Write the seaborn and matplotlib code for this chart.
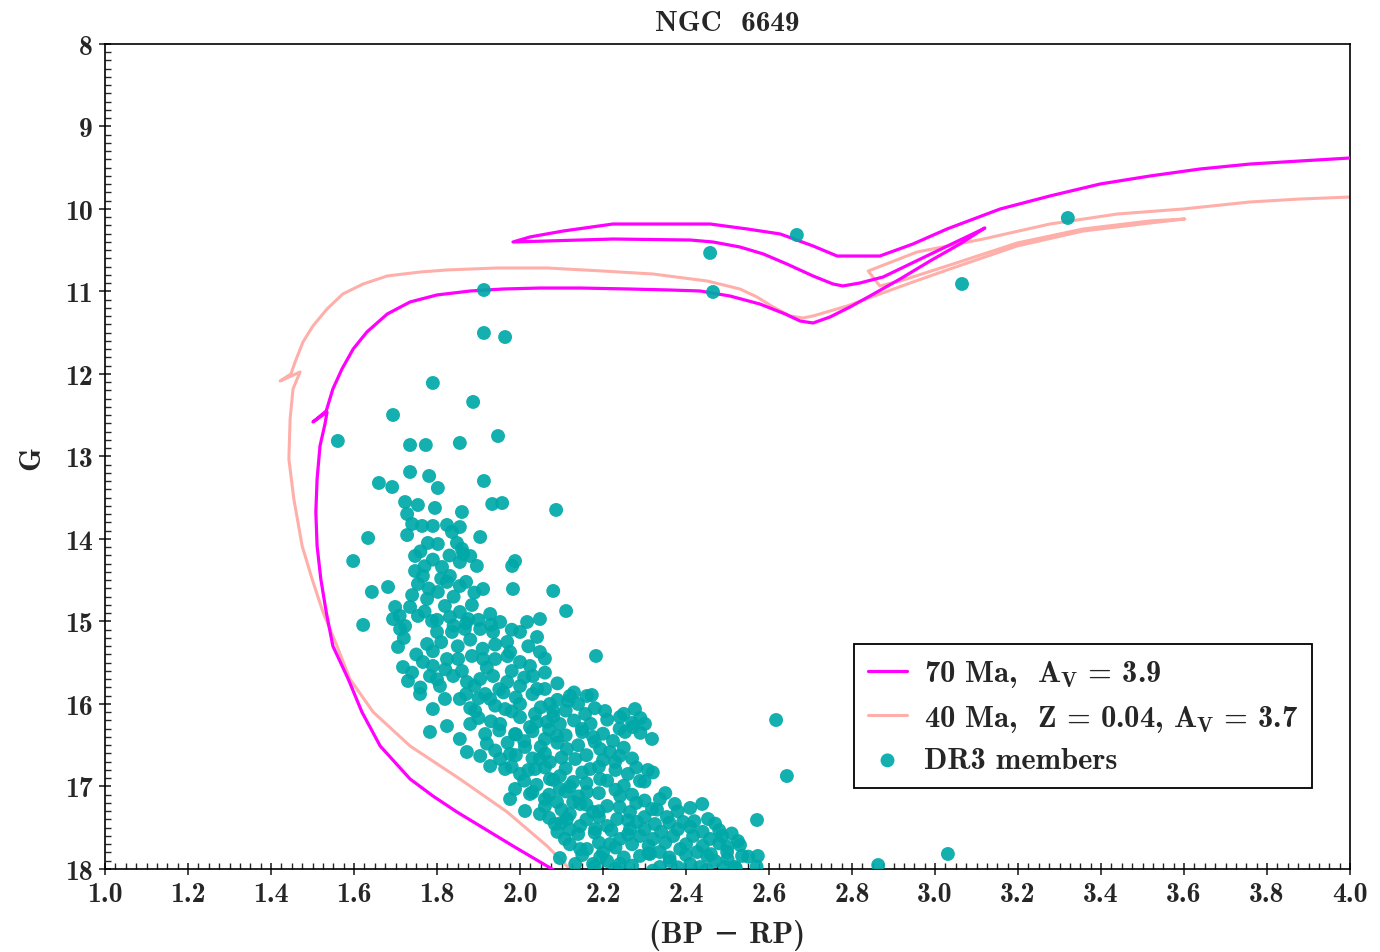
import matplotlib
matplotlib.use("Agg")
import matplotlib.pyplot as plt
import seaborn as sns
from matplotlib.ticker import MultipleLocator

# ---------------- data ----------------
# cluster members read off the CMD (BP-RP colour, G magnitude)
members_bp_rp = [
    2.667, 2.458, 2.465, 1.913, 1.913, 1.964, 3.320, 3.065,
    1.790, 1.887, 1.694, 1.561, 1.735, 1.773, 1.855, 1.947,
    1.735, 1.781, 1.913, 1.660, 1.692, 1.723, 1.754, 1.795,
    1.802, 1.860, 1.933, 1.957, 2.087, 1.728, 1.740, 1.764,
    1.790, 1.824, 1.855, 1.836, 1.728, 1.778, 1.802, 1.848,
    1.904, 1.634, 1.598, 1.747, 1.863, 1.880, 1.981, 1.988,
    1.747, 1.766, 1.812, 1.831, 1.855, 1.896, 1.643, 1.682,
    1.754, 1.824, 1.855, 1.911, 1.983, 2.080, 1.699, 1.735,
    1.776, 1.802, 1.819, 1.884, 2.111, 1.622, 1.694, 1.723,
    1.754, 1.788, 1.831, 1.855, 1.875, 1.928, 1.952, 2.017,
    2.048, 1.711, 1.706, 1.776, 1.800, 1.836, 1.867, 1.904,
    1.935, 1.969, 2.000, 2.041, 2.048, 2.183, 1.718, 1.730,
    1.766, 1.790, 1.824, 1.851, 1.884, 1.911, 1.940, 1.976,
    2.000, 2.024, 1.783, 1.807, 1.839, 1.872, 1.904, 1.935,
    1.969, 2.000, 2.031, 2.041, 2.120, 2.161, 1.790, 1.783,
    1.824, 1.855, 1.872, 1.904, 1.928,
    1.855, 1.892, 1.928, 1.964, 2.000, 2.036, 2.072, 1.880,
    1.916, 1.952, 1.988, 2.024, 2.060, 1.940, 1.976, 2.012,
    2.048, 1.964, 2.000, 2.036, 2.072, 1.988, 2.024, 2.060,
    2.096, 2.048, 2.084, 2.120, 2.108, 2.145, 2.193, 2.241,
    2.173, 2.140, 2.116, 2.080, 2.301, 2.272, 2.253, 2.318,
    2.224, 2.176, 2.149, 2.308, 2.260, 2.289, 2.217, 2.229,
    2.193, 2.318, 2.354, 2.393, 2.439, 2.453, 2.140, 2.161,
    2.241, 2.289, 2.320, 2.369, 2.417, 2.458, 2.487, 2.525,
    2.499, 2.535, 2.451, 2.427, 2.386, 2.337, 2.289, 2.210,
    2.176, 2.573, 2.571, 2.617, 2.643, 2.863, 3.031,
    2.065, 2.089, 2.113, 2.072, 2.096, 2.128, 2.089, 2.128,
    2.161, 2.193, 2.176, 2.210, 2.241, 2.265, 2.234, 2.210,
    2.282, 2.145, 2.113, 2.205, 2.241, 2.277, 2.337, 2.373,
    2.410, 2.325, 2.337, 2.434, 2.494, 1.759, 1.819,
    1.916, 2.060, 2.096, 2.133, 2.169, 2.157, 2.012, 2.145,
    2.181, 2.217, 2.265, 2.313, 2.361, 2.410, 2.470, 2.518,
    2.096, 2.133, 1.952, 1.976,
]
members_g = [
    10.315, 10.533, 11.006, 10.982, 11.503, 11.552, 10.109, 10.909,
    12.109, 12.339, 12.497, 12.812, 12.861, 12.861, 12.836, 12.752,
    13.188, 13.236, 13.297, 13.321, 13.370, 13.552, 13.588, 13.624,
    13.382, 13.673, 13.576, 13.564, 13.648, 13.697, 13.818, 13.842,
    13.842, 13.830, 13.855, 13.915, 13.952, 14.048, 14.061, 14.048,
    13.976, 13.988, 14.267, 14.206, 14.182, 14.206, 14.327, 14.267,
    14.388, 14.448, 14.339, 14.448, 14.279, 14.327, 14.642, 14.582,
    14.545, 14.521, 14.570, 14.606, 14.606, 14.630, 14.824, 14.824,
    14.727, 14.642, 14.812, 14.800, 14.873, 15.042, 14.970, 15.055,
    14.933, 14.994, 14.945, 14.885, 14.970, 14.909, 15.006, 15.006,
    14.970, 15.091, 15.309, 15.273, 15.127, 15.127, 15.091, 15.091,
    15.127, 15.248, 15.127, 15.188, 15.370, 15.418, 15.552, 15.721,
    15.491, 15.539, 15.455, 15.455, 15.418, 15.455, 15.455, 15.370,
    15.491, 15.539, 15.661, 15.782, 15.661, 15.733, 15.697, 15.661,
    15.733, 15.782, 15.661, 15.818, 15.903, 15.903, 16.061, 16.339,
    16.267, 16.424, 16.582, 16.630, 16.752,
    15.939, 16.085, 15.939, 16.061, 16.000, 16.121, 16.000, 16.242,
    16.364, 16.242, 16.364, 16.279, 16.424, 16.564, 16.606, 16.521,
    16.667, 16.788, 16.848, 16.788, 16.909, 17.030, 17.091, 17.152,
    17.030, 17.333, 17.455, 17.333, 17.636, 17.758, 17.855, 17.939,
    15.891, 16.000, 15.964, 16.085, 16.242, 16.279, 16.339, 16.424,
    16.448, 16.400, 16.303, 16.800, 16.848, 16.933, 16.582, 16.703,
    16.545, 17.273, 17.370, 17.430, 17.212, 17.394, 17.576, 17.758,
    17.636, 17.600, 17.636, 17.600, 17.600, 17.636, 17.600, 17.661,
    17.794, 17.842, 17.842, 17.794, 17.758, 17.794, 17.842, 17.903,
    17.939, 17.842, 17.406, 16.194, 16.873, 17.952, 17.818,
    16.218, 16.388, 16.545, 16.703, 16.873, 16.945, 17.188, 17.188,
    17.067, 16.909, 17.309, 17.236, 17.115, 17.309, 17.394, 17.479,
    17.430, 17.479, 17.394, 16.085, 16.158, 16.061, 17.152, 17.212,
    17.491, 17.455, 17.976, 17.976, 17.976, 15.879, 15.939,
    15.879, 15.818, 16.242, 16.667, 16.788, 16.121, 17.297, 17.212,
    17.515, 17.697, 17.515, 17.818, 17.903, 17.939, 17.903, 17.976,
    17.867, 17.939, 16.667, 17.152,
]

# densely packed members of the lower main sequence
core_bp_rp = [
    1.87, 1.90, 1.96, 1.99, 2.03, 2.09, 2.13,
    1.88, 1.94, 1.98, 2.05, 2.11, 2.18, 2.25, 2.29,
    1.90, 1.93, 2.00, 2.04, 2.08, 2.13, 2.17, 2.21, 2.27,
    1.95, 1.99, 2.03, 2.07, 2.11, 2.15, 2.20, 2.29, 2.24,
    1.92, 1.97, 2.01, 2.05, 2.09, 2.14, 2.18, 2.25,
    1.99, 2.03, 2.06, 2.10, 2.16, 2.20, 2.24, 2.27,
    1.98, 2.02, 2.06, 2.11, 2.15, 2.19, 2.23, 2.28, 2.32,
    2.01, 2.04, 2.08, 2.12, 2.16, 2.21, 2.25, 2.30,
    2.03, 2.07, 2.11, 2.14, 2.19, 2.23, 2.27, 2.30, 2.35,
    2.06, 2.10, 2.16, 2.19, 2.24, 2.28, 2.33, 2.38, 2.41,
    2.07, 2.10, 2.16, 2.19, 2.26, 2.30, 2.36, 2.42, 2.47,
    2.09, 2.12, 2.18, 2.22, 2.26, 2.30, 2.34, 2.38, 2.44, 2.48, 2.51,
    2.12, 2.19, 2.23, 2.27, 2.31, 2.35, 2.40, 2.44, 2.48, 2.50, 2.53,
    2.15, 2.20, 2.25, 2.31, 2.36, 2.40, 2.46, 2.50, 2.55,
    2.18, 2.23, 2.27, 2.32, 2.38, 2.45, 2.52, 2.57,
    1.74, 1.76, 1.80, 1.82, 1.86, 1.89, 1.92, 1.95, 1.98, 2.01, 2.06, 2.09,
    1.72, 1.75, 1.79, 1.81, 1.85, 1.88, 1.91, 1.94, 1.97, 2.02, 2.06,
    1.71, 1.77, 1.80, 1.84, 1.87, 1.90, 1.93, 1.98,
    1.76, 1.79, 1.83, 1.86, 1.78, 1.81, 1.84, 1.87, 1.89, 1.74, 1.77,
]
core_g = [
    15.88, 15.93, 15.86, 15.92, 15.88, 15.95, 15.86,
    16.05, 16.02, 16.09, 16.04, 16.08, 16.05, 16.12, 16.17,
    16.17, 16.21, 16.16, 16.22, 16.15, 16.20, 16.24, 16.19, 16.23,
    16.32, 16.37, 16.33, 16.31, 16.38, 16.34, 16.36, 16.35, 16.30,
    16.48, 16.47, 16.45, 16.52, 16.47, 16.50, 16.46, 16.53,
    16.62, 16.66, 16.60, 16.65, 16.62, 16.68, 16.63, 16.66,
    16.76, 16.80, 16.77, 16.78, 16.83, 16.76, 16.80, 16.77, 16.83,
    16.93, 16.98, 16.92, 17.00, 16.96, 16.93, 16.99, 16.94,
    17.07, 17.10, 17.06, 17.12, 17.08, 17.04, 17.10, 17.17, 17.08,
    17.24, 17.28, 17.22, 17.30, 17.25, 17.20, 17.28, 17.30, 17.26,
    17.38, 17.44, 17.40, 17.37, 17.41, 17.37, 17.44, 17.42, 17.45,
    17.55, 17.52, 17.56, 17.53, 17.58, 17.52, 17.55, 17.52, 17.55, 17.53, 17.57,
    17.70, 17.68, 17.74, 17.70, 17.72, 17.68, 17.70, 17.72, 17.69, 17.73, 17.71,
    17.83, 17.80, 17.86, 17.81, 17.86, 17.83, 17.82, 17.88, 17.85,
    17.97, 18.00, 17.96, 18.02, 17.98, 18.01, 17.99, 17.97,
    15.62, 15.80, 15.70, 15.58, 15.60, 15.78, 15.56, 15.82, 15.60, 15.68, 15.62, 15.75,
    15.20, 15.40, 15.36, 15.25, 15.30, 15.22, 15.33, 15.28, 15.42, 15.30, 15.45,
    14.93, 14.88, 14.98, 15.05, 15.02, 14.98, 15.04, 15.10,
    14.15, 14.25, 14.20, 14.12, 14.60, 14.48, 14.70, 14.52, 14.65, 14.68, 14.33,
]

# 70 Ma isochrone
iso70_bp_rp = [
    2.140, 2.077, 1.983, 1.848, 1.790, 1.735, 1.663, 1.619, 1.586, 1.549,
    1.533, 1.520, 1.511, 1.508, 1.511, 1.518, 1.530, 1.535, 1.501, 1.533,
    1.549, 1.571, 1.598, 1.631, 1.680, 1.735, 1.800, 1.880, 1.959, 2.048,
    2.145, 2.265, 2.361, 2.434, 2.506, 2.578, 2.639, 2.675, 2.706, 2.747,
    2.795, 2.843, 2.916, 2.988, 3.060, 3.120, 3.116, 2.995, 2.875, 2.819,
    2.778, 2.754, 2.706, 2.643, 2.586, 2.530, 2.465, 2.410, 2.224, 2.065,
    1.983, 2.024, 2.104, 2.224, 2.458, 2.547, 2.627, 2.706, 2.764, 2.867,
    2.947, 3.029, 3.157, 3.277, 3.398, 3.518, 3.639, 3.759, 3.880, 4.000,
]
iso70_g = [
    18.200, 18.000, 17.721, 17.309, 17.115, 16.909, 16.509, 16.097, 15.697, 15.297,
    14.885, 14.485, 14.085, 13.673, 13.273, 12.873, 12.606, 12.461, 12.582, 12.448,
    12.182, 11.939, 11.697, 11.491, 11.273, 11.127, 11.042, 10.994, 10.970, 10.958,
    10.958, 10.970, 10.982, 10.994, 11.055, 11.152, 11.273, 11.358, 11.382, 11.309,
    11.188, 11.055, 10.848, 10.630, 10.424, 10.230, 10.242, 10.533, 10.824, 10.897,
    10.933, 10.909, 10.812, 10.667, 10.545, 10.461, 10.400, 10.376, 10.364, 10.388,
    10.400, 10.339, 10.267, 10.182, 10.182, 10.242, 10.303, 10.448, 10.570, 10.570,
    10.424, 10.242, 10.000, 9.842, 9.697, 9.600, 9.515, 9.455, 9.418, 9.382,
]

# 40 Ma, Z = 0.04 isochrone
iso40_bp_rp = [
    2.133, 2.120, 2.065, 1.969, 1.855, 1.735, 1.646, 1.590, 1.559, 1.525,
    1.499, 1.475, 1.455, 1.443, 1.446, 1.453, 1.470, 1.422, 1.448, 1.458,
    1.477, 1.501, 1.535, 1.573, 1.622, 1.680, 1.759, 1.824, 1.945, 2.065,
    2.200, 2.320, 2.451, 2.530, 2.571, 2.610, 2.651, 2.682, 2.706, 2.788,
    2.867, 2.947, 3.036, 3.198, 3.357, 3.518, 3.602, 3.518, 3.357, 3.198,
    3.036, 2.916, 2.867, 2.839, 2.957, 3.116, 3.277, 3.439, 3.598, 3.759,
    3.880, 4.000,
]
iso40_g = [
    18.121, 18.000, 17.721, 17.309, 16.909, 16.509, 16.097, 15.697, 15.297, 14.885,
    14.485, 14.085, 13.515, 13.030, 12.545, 12.182, 11.976, 12.085, 12.000, 11.855,
    11.612, 11.418, 11.212, 11.030, 10.909, 10.812, 10.764, 10.739, 10.715, 10.715,
    10.752, 10.788, 10.873, 10.970, 11.067, 11.188, 11.297, 11.321, 11.297, 11.176,
    11.030, 10.885, 10.727, 10.448, 10.267, 10.170, 10.121, 10.145, 10.242, 10.412,
    10.679, 10.873, 10.933, 10.752, 10.521, 10.364, 10.182, 10.061, 10.000, 9.915,
    9.879, 9.855,
]

label_70 = r"70 Ma,  A$_\mathregular{V}$ = 3.9"
label_40 = r"40 Ma,  Z = 0.04, A$_\mathregular{V}$ = 3.7"
label_members = "DR3 members"
title = "NGC  6649"
xlabel = "(BP \u2212 RP)"
ylabel = "G"

all_bp_rp = members_bp_rp + core_bp_rp
all_g = members_g + core_g

# ---------------- style ----------------
sns.set_style("ticks")
plt.rcParams["font.family"] = ["cmb10", "DejaVu Serif"]
plt.rcParams["axes.unicode_minus"] = False
plt.rcParams["axes.linewidth"] = 1.2
plt.rcParams["axes.edgecolor"] = "black"

fig = plt.figure(figsize=(13.8, 9.53), dpi=100)
ax = fig.add_axes([0.0761, 0.0871, 0.9022, 0.8657])

sns.lineplot(x=iso70_bp_rp, y=iso70_g, sort=False, estimator=None,
             color="#FF00FF", linewidth=2.3, ax=ax, label=label_70, zorder=3)
sns.lineplot(x=iso40_bp_rp, y=iso40_g, sort=False, estimator=None,
             color="#FFAFAA", linewidth=2.2, ax=ax, label=label_40, zorder=2)
sns.scatterplot(x=all_bp_rp, y=all_g, color=(0.0, 0.66, 0.66),
                s=100, edgecolor="none", alpha=0.92, ax=ax,
                label=label_members, zorder=4)

ax.set_xlim(1.0, 4.0)
ax.set_ylim(18, 8)
ax.xaxis.set_major_locator(MultipleLocator(0.2))
ax.xaxis.set_minor_locator(MultipleLocator(0.025))
ax.yaxis.set_major_locator(MultipleLocator(1))
ax.yaxis.set_minor_locator(MultipleLocator(0.1))
ax.xaxis.set_major_formatter(plt.FuncFormatter(lambda v, p: f"{v:.1f}"))
ax.yaxis.set_major_formatter(plt.FuncFormatter(lambda v, p: f"{v:.0f}"))

ax.tick_params(which="major", direction="inout", length=8, width=1.2,
               top=False, right=False, labelsize=20, pad=5)
ax.tick_params(which="minor", direction="in", length=4, width=1.0,
               top=False, right=False)

ax.set_title(title, fontsize=21, pad=10)
ax.set_xlabel(xlabel, fontsize=22, labelpad=8)
ax.set_ylabel(ylabel, fontsize=22, labelpad=14)

leg = ax.legend(loc="lower right", bbox_to_anchor=(0.9695, 0.098),
                borderaxespad=0.0,
                fontsize=22, frameon=True, fancybox=False, framealpha=1,
                edgecolor="black", handlelength=1.3, labelspacing=0.42,
                borderpad=0.45, handletextpad=0.55)
leg.get_frame().set_linewidth(1.3)

fig.savefig("out.png", dpi=100)
